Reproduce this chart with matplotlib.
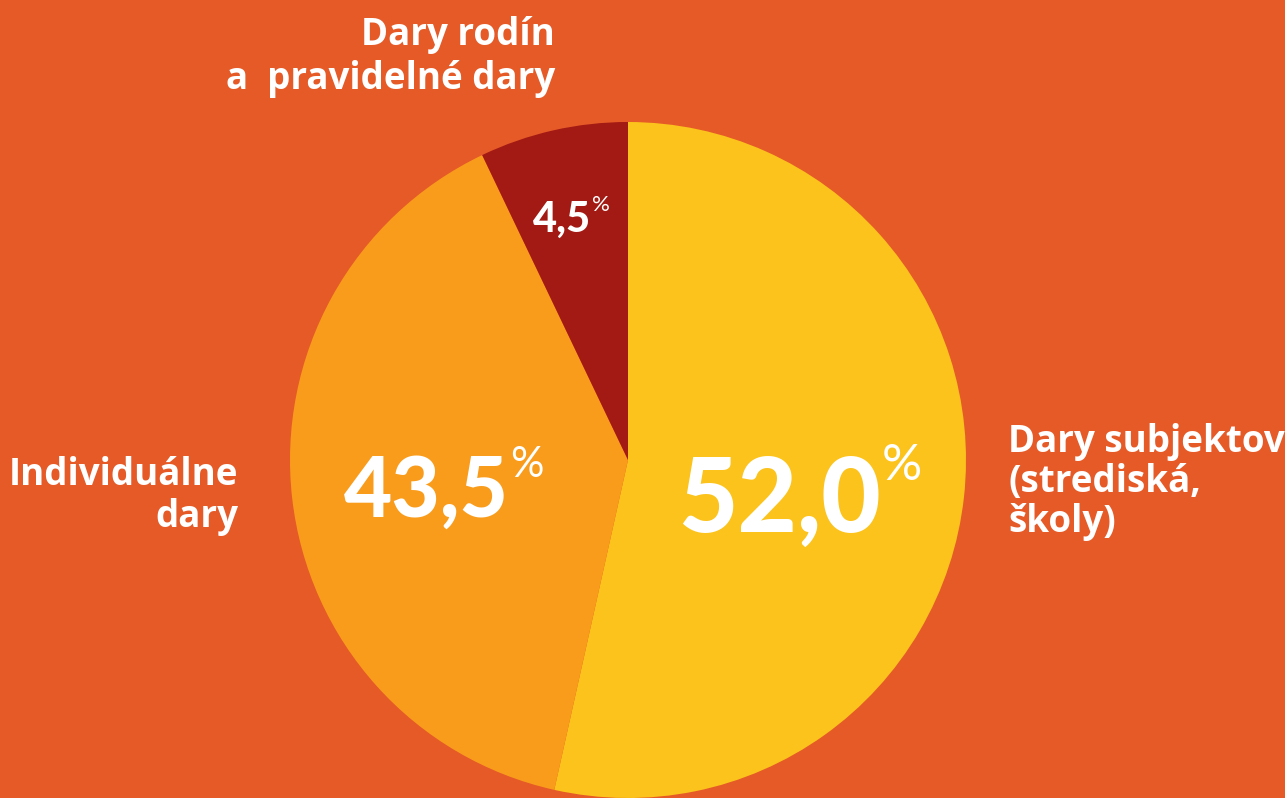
import matplotlib.pyplot as plt

# source of donations, clockwise from 12 o'clock
categories = ['Dary subjektov\n(strediská,\nškoly)', 'Individuálne\ndary', 'Dary rodín\na  pravidelné dary']
shares = [52.0, 43.5, 4.5]          # values printed on the chart
drawn = [53.5, 39.4, 7.1]           # wedge sizes as drawn in the source graphic
colors = ['#FBC31B', '#F99C1C', '#A31913']
bg = '#E55A27'

W, H = 1285, 798
fig = plt.figure(figsize=(W / 100, H / 100), dpi=100, facecolor=bg)
ax = fig.add_axes([0, 0, 1, 1])
ax.set_xlim(0, W)
ax.set_ylim(0, H)
ax.set_aspect('equal')

ax.pie(drawn, colors=colors, startangle=90, counterclock=False,
       center=(628, H - 460), radius=338, frame=True,
       wedgeprops=dict(linewidth=0))
ax.axis('off')

def pct(v):
    return f'{v:.1f}'.replace('.', ',')

lab_font = dict(family=['Open Sans', 'DejaVu Sans'], weight='bold', color='white')
num_font = dict(family=['Lato', 'DejaVu Sans'], weight='black', color='white')

# category labels: (x, first baseline, ha, size, line spacing)
lab_pos = [(1008, 452, 'left', 26.5, 40), (238, 485, 'right', 26.5, 42), (555, 45, 'right', 26.5, 44)]
for text, (x, y, ha, fs, sp) in zip(categories, lab_pos):
    for i, line in enumerate(text.split('\n')):
        ax.text(x, H - (y + i * sp), line, ha=ha, va='baseline', fontsize=fs, **lab_font)

# percentages: (right edge of number, baseline, number size, percent size, percent top)
num_pos = [(881, 532, 74, 36, 443), (509, 517, 60, 30, 446), (591, 232, 30, 16, 195)]
for v, (x, y, fs, ps, pt) in zip(shares, num_pos):
    ax.text(x, H - y, pct(v), ha='right', va='baseline', fontsize=fs, **num_font)
    ax.text(x + 1, H - pt, '%', ha='left', va='top', fontsize=ps,
            family=['Lato', 'DejaVu Sans'], weight='normal', color='white')

fig.savefig('out.png', dpi=100, facecolor=bg)
